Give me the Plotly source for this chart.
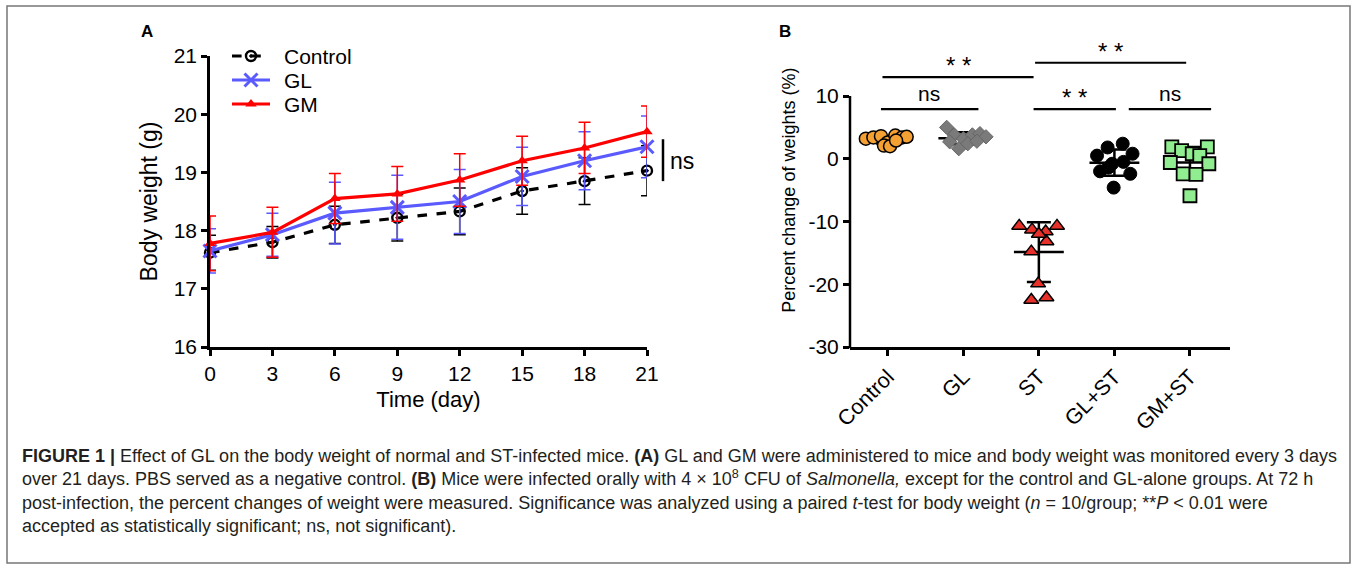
import numpy as np
import plotly.graph_objects as go

# ---------------- Panel A data ----------------
days = [0, 3, 6, 9, 12, 15, 18, 21]
control_mean = [17.62, 17.80, 18.10, 18.22, 18.33, 18.68, 18.85, 19.03]
control_sd = [0.30, 0.27, 0.32, 0.40, 0.40, 0.40, 0.40, 0.43]
gl_mean = [17.65, 17.93, 18.30, 18.40, 18.50, 18.93, 19.20, 19.44]
gl_sd = [0.38, 0.37, 0.53, 0.55, 0.55, 0.50, 0.50, 0.53]
gm_mean = [17.78, 17.97, 18.55, 18.63, 18.87, 19.20, 19.42, 19.70]
gm_sd = [0.47, 0.43, 0.43, 0.47, 0.45, 0.42, 0.44, 0.44]
a_yticks = [16, 17, 18, 19, 20, 21]
a_series = ["Control", "GL", "GM"]

# ---------------- Panel B data ----------------
groups = ["Control", "GL", "ST", "GL+ST", "GM+ST"]
control_pct = [3.2, 3.4, 3.6, 2.6, 3.7, 3.4, 3.5, 2.1, 2.0, 2.9]
control_jit = [-0.29, -0.19, -0.09, 0.0, 0.10, 0.19, 0.25, -0.05, 0.03, 0.11]
gl_pct = [5.0, 3.8, 3.2, 3.8, 4.0, 3.5, 2.7, 1.6, 2.4, 2.8]
gl_jit = [-0.22, -0.12, 0.0, 0.12, 0.22, 0.30, -0.18, -0.06, 0.06, 0.18]
st_pct = [-10.7, -11.3, -11.6, -10.7, -13.2, -14.8, -19.9, -22.5, -22.1, -12.0]
st_jit = [-0.26, -0.09, 0.09, 0.24, 0.10, -0.10, -0.01, -0.10, 0.10, 0.0]
glst_pct = [1.8, 2.4, 0.8, 0.5, -0.8, -0.5, -2.0, -1.4, -2.4, -4.6]
glst_jit = [-0.09, 0.11, 0.24, -0.23, -0.03, 0.12, -0.19, -0.08, 0.21, -0.01]
gmst_pct = [1.9, 1.3, 0.8, 1.9, 0.5, -0.6, -0.8, -2.4, -2.5, -5.9]
gmst_jit = [-0.24, -0.11, 0.03, 0.23, 0.13, -0.26, 0.25, -0.09, 0.08, 0.0]
b_yticks = [-30, -20, -10, 0, 10]
b_yticktext = ["-30", "-20", "-10", "0", "10"]

FONT = "Arial, Liberation Sans, sans-serif"
W, H = 1357, 569


def px(x):
    return x / W


def py(y):
    return 1 - y / H


A_X0, A_X1, A_Y0, A_Y1 = 210, 647, 347, 56
B_X0, B_X1 = 850, 1230
B_YBOT = 347
B_RANGE = [-30, 20]
B_PX_PER_UNIT = (347 - 96) / 40.0
B_YTOP = B_YBOT - (B_RANGE[1] - B_RANGE[0]) * B_PX_PER_UNIT

# legend box (pixel units on a hidden helper axis)
LG_X0, LG_X1, LG_Y0, LG_Y1 = 225, 380, 44, 116

styles = {
    "Control": dict(line=dict(color="black", width=3.2, dash="dash"),
                    marker=dict(symbol="circle-open-dot", size=10, color="black", line=dict(width=2.4, color="black")),
                    err="black"),
    "GL": dict(line=dict(color="#5a5aff", width=3.2),
               marker=dict(symbol="x-thin", size=13, color="#5a5aff", line=dict(width=3, color="#5a5aff")),
               err="#5a5aff"),
    "GM": dict(line=dict(color="#ff0000", width=3.2),
               marker=dict(symbol="triangle-up", size=10, color="#ff0000"),
               err="#ff0000"),
}

fig = go.Figure()

# ---------------- Panel A traces ----------------
for name, mean, sd in [("Control", control_mean, control_sd), ("GL", gl_mean, gl_sd), ("GM", gm_mean, gm_sd)]:
    st = styles[name]
    fig.add_trace(go.Scatter(
        x=days, y=mean, name=name, mode="lines+markers",
        line=st["line"], marker=st["marker"],
        error_y=dict(type="data", array=sd, color=st["err"], thickness=1.5, width=6),
        cliponaxis=False, xaxis="x", yaxis="y", showlegend=False))

# manual legend keys
for k, name in enumerate(a_series):
    st = styles[name]
    yk = 56 + 24 * k
    fig.add_trace(go.Scatter(
        x=[232, 251, 270], y=[yk, yk, yk], mode="lines", line=st["line"],
        xaxis="x3", yaxis="y3", showlegend=False, hoverinfo="skip"))
    fig.add_trace(go.Scatter(
        x=[251], y=[yk], mode="markers", marker=st["marker"],
        xaxis="x3", yaxis="y3", showlegend=False, hoverinfo="skip", cliponaxis=False))

# ---------------- Panel B traces ----------------
b_sets = [
    (control_pct, control_jit, dict(symbol="circle", size=13, color="#f5a033", line=dict(color="black", width=1.5))),
    (gl_pct, gl_jit, dict(symbol="diamond", size=11, color="#7a7a7a", line=dict(color="#666666", width=1))),
    (st_pct, st_jit, dict(symbol="triangle-up", size=13, color="#e8302b", line=dict(color="black", width=1.5))),
    (glst_pct, glst_jit, dict(symbol="circle", size=13, color="black", line=dict(color="black", width=1))),
    (gmst_pct, gmst_jit, dict(symbol="square", size=13, color="#90ee90", line=dict(color="black", width=1.8))),
]
for i, (vals, jit, mk) in enumerate(b_sets):
    vals = np.array(vals, dtype=float)
    xs = [i + j for j in jit]
    m = float(vals.mean())
    sd = float(vals.std(ddof=1))
    fig.add_trace(go.Scatter(
        x=[i - 0.33, i + 0.33], y=[m, m], mode="lines",
        line=dict(color="black", width=2.5), showlegend=False,
        xaxis="x2", yaxis="y2", hoverinfo="skip"))
    fig.add_trace(go.Scatter(
        x=[i], y=[m], mode="markers", marker=dict(size=1, color="rgba(0,0,0,0)"),
        error_y=dict(type="data", array=[sd], color="black", thickness=2.5, width=12),
        showlegend=False, xaxis="x2", yaxis="y2", hoverinfo="skip"))
    fig.add_trace(go.Scatter(
        x=xs, y=vals, mode="markers", marker=mk, showlegend=False,
        cliponaxis=False, xaxis="x2", yaxis="y2"))

axis_common = dict(showgrid=False, zeroline=False, linecolor="black", linewidth=2.5,
                   ticks="outside", ticklen=6, tickwidth=2.5, tickcolor="black",
                   tickfont=dict(family=FONT, size=21, color="black"), automargin=False)
hidden = dict(visible=False, showgrid=False, zeroline=False, fixedrange=True)

fig.update_layout(
    width=W, height=H,
    margin=dict(l=0, r=0, t=0, b=0),
    paper_bgcolor="white", plot_bgcolor="rgba(0,0,0,0)",
    font=dict(family=FONT, color="black"),
    showlegend=False,
    xaxis=dict(domain=[px(A_X0), px(A_X1)], range=[0, 21], tickvals=days, showline=True,
               title=dict(text="Time (day)", font=dict(family=FONT, size=22), standoff=8),
               anchor="y", **axis_common),
    yaxis=dict(domain=[py(A_Y0), py(A_Y1)], range=[16, 21], tickvals=a_yticks, showline=True,
               title=dict(text="Body weight (g)", font=dict(family=FONT, size=23), standoff=10),
               anchor="x", **axis_common),
    xaxis2=dict(domain=[px(B_X0), px(B_X1)], range=[-0.5, 4.53], tickvals=list(range(len(groups))),
                ticktext=groups, tickangle=-45, showline=True, anchor="y2", **axis_common),
    yaxis2=dict(domain=[py(B_YBOT), py(B_YTOP)], range=B_RANGE, tickvals=b_yticks,
                ticktext=b_yticktext, showline=False,
                title=dict(text="Percent change of weights (%)", font=dict(family=FONT, size=18), standoff=8),
                anchor="x2", **axis_common),
    xaxis3=dict(domain=[px(LG_X0), px(LG_X1)], range=[LG_X0, LG_X1], anchor="y3", **hidden),
    yaxis3=dict(domain=[py(LG_Y1), py(LG_Y0)], range=[LG_Y1, LG_Y0], anchor="x3", **hidden),
)
fig.update_xaxes(tickfont=dict(size=21.5), selector=dict(anchor="y2"))


def b_paper_y(v):
    return py(B_YBOT - (v - B_RANGE[0]) * B_PX_PER_UNIT)


shapes = []
shapes.append(dict(type="line", xref="paper", yref="paper", x0=px(B_X0), x1=px(B_X0),
                   y0=b_paper_y(-30) - 1.25 / H, y1=b_paper_y(10), line=dict(color="black", width=2.5)))

sig_lines = [(-0.09, 1.20, 7.9), (-0.07, 1.93, 13.0), (1.95, 3.95, 15.3), (1.93, 3.02, 7.9), (3.19, 4.28, 7.9)]
sig_texts = [(0.55, 7.9, "ns"), (0.93, 13.0, "* *"), (2.95, 15.3, "* *"), (2.47, 7.9, "* *"), (3.73, 7.9, "ns")]
for x0, x1, yv in sig_lines:
    shapes.append(dict(type="line", xref="x2", yref="y2", x0=x0, x1=x1, y0=yv, y1=yv,
                       line=dict(color="black", width=2.2)))


def a_paper_y(v):
    return py(A_Y0 - (v - 16) * (A_Y0 - A_Y1) / 5.0)


shapes.append(dict(type="line", xref="paper", yref="paper", x0=px(663), x1=px(663),
                   y0=a_paper_y(18.85), y1=a_paper_y(19.57), line=dict(color="black", width=2.5)))

shapes.append(dict(type="rect", xref="paper", yref="paper", x0=px(7), x1=px(1350), y0=py(563), y1=py(6),
                   line=dict(color="#777777", width=1.5)))
fig.update_layout(shapes=shapes)

ann = []
for k, name in enumerate(a_series):
    ann.append(dict(x=282, y=56 + 24 * k, xref="x3", yref="y3", text=name, showarrow=False,
                    xanchor="left", yanchor="middle", font=dict(family=FONT, size=21, color="black")))
for xv, yv, t in sig_texts:
    sz = 24 if "*" in t else 21
    ys = -4 if "*" in t else 2
    ann.append(dict(x=xv, y=yv, xref="x2", yref="y2", text=t, showarrow=False, yanchor="bottom",
                    yshift=ys, font=dict(family=FONT, size=sz, color="black")))
ann.append(dict(x=px(668), y=a_paper_y(19.2), xref="paper", yref="paper", text="ns", showarrow=False,
                xanchor="left", yanchor="middle", font=dict(family=FONT, size=23, color="black")))
ann.append(dict(x=px(147), y=py(31), xref="paper", yref="paper", text="<b>A</b>", showarrow=False,
                xanchor="center", yanchor="middle", font=dict(family=FONT, size=17, color="black")))
ann.append(dict(x=px(785), y=py(31), xref="paper", yref="paper", text="<b>B</b>", showarrow=False,
                xanchor="center", yanchor="middle", font=dict(family=FONT, size=17, color="black")))

caption = (
    "<b>FIGURE 1 |</b> Effect of GL on the body weight of normal and ST-infected mice. <b>(A)</b> GL and GM were "
    "administered to mice and body weight was monitored every 3 days<br>"
    "over 21 days. PBS served as a negative control. <b>(B)</b> Mice were infected orally with 4 × 10<sup>8</sup> "
    "CFU of <i>Salmonella,</i> except for the control and GL-alone groups. At 72 h<br>"
    "post-infection, the percent changes of weight were measured. Significance was analyzed using a paired "
    "<i>t</i>-test for body weight (<i>n</i> = 10/group; **<i>P</i> &lt; 0.01 were<br>"
    "accepted as statistically significant; ns, not significant)."
)
ann.append(dict(x=px(20), y=py(444), xref="paper", yref="paper", text=caption, showarrow=False,
                xanchor="left", yanchor="top", align="left",
                font=dict(family="Liberation Sans, Arial, sans-serif", size=18, color="#231f20")))
fig.update_layout(annotations=ann)

fig.write_html("out.html", post_script="document.body.style.margin='0';",
               config={"displayModeBar": False})
